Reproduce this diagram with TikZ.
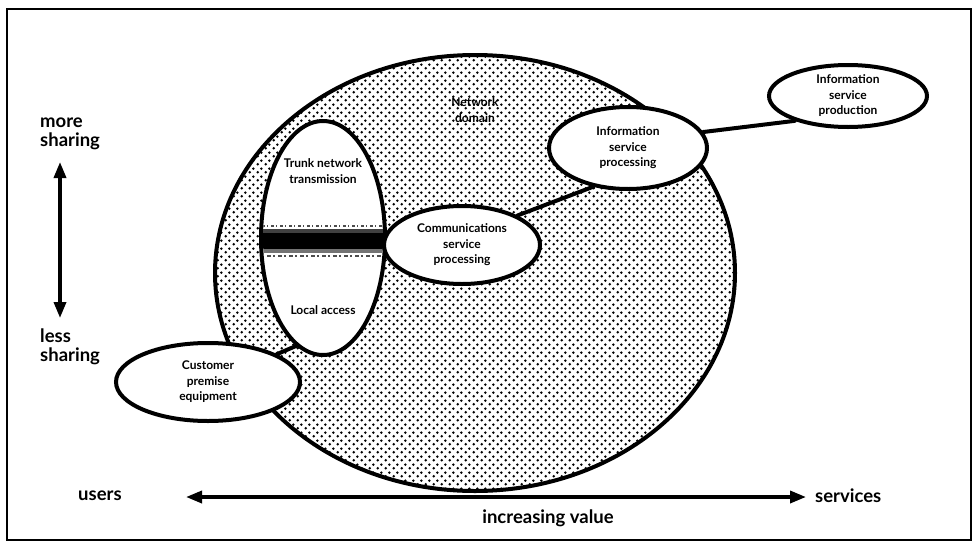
\documentclass[tikz,border=0pt]{standalone}
\usepackage{fontspec}
\setmainfont{Lato}
\usetikzlibrary{shapes.geometric,patterns,arrows.meta}

% staggered stipple used for the network domain
\pgfdeclarepatternformonly{stipple}{\pgfpointorigin}{\pgfpoint{8pt}{8pt}}{\pgfpoint{8pt}{8pt}}{%
  \pgfpathcircle{\pgfpoint{2pt}{2pt}}{1.55pt}%
  \pgfpathcircle{\pgfpoint{6pt}{6pt}}{1.55pt}%
  \pgfusepath{fill}}

\begin{document}
\begin{tikzpicture}[x=1pt,y=-1pt,
  outline/.style={line width=4pt,draw=black},
  bubble/.style={ellipse,outline,fill=white,inner sep=0pt,
    font=\bfseries\fontsize{12}{15.5}\selectfont,align=center},
  lbl/.style={font=\bfseries\fontsize{12}{16}\selectfont,align=center,inner sep=0pt},
  axislbl/.style={font=\bfseries\fontsize{18.5}{19}\selectfont,align=left,inner sep=0pt},
  link/.style={line width=4pt,line cap=round},
  axis/.style={line width=3.5pt,{Triangle[length=16pt,width=12pt]}-{Triangle[length=16pt,width=12pt]}}]

\useasboundingbox (0,0) rectangle (977,549);

% frame
\draw[line width=1.8pt] (7,9) rectangle (971,540);

% network domain
\node[ellipse,outline,pattern=stipple,minimum width=520pt,minimum height=436pt]
  (domain) at (475,273) {};
\node[lbl] (domainlbl) at (475,110) {Network\\domain};

% trunk network / local access
\node[ellipse,outline,fill=white,minimum width=124pt,minimum height=234pt]
  (inner) at (323,238) {};
\begin{scope}
  \clip (323,238) ellipse [x radius=60pt,y radius=115pt];
  \fill[black] (250,233) rectangle (400,249);
  \fill[black!75] (250,229) rectangle (400,233);
  \fill[black!55] (250,249) rectangle (400,253);
  \draw[black!70,line width=1.2pt,dash pattern=on 3pt off 2pt on 1pt off 3pt] (262,226) -- (390,226);
  \draw[black!70,line width=1.2pt,dash pattern=on 2pt off 3pt on 4pt off 2pt] (262,256) -- (390,256);
\end{scope}
\node[lbl] (trunklbl) at (323,171) {Trunk network\\transmission};
\node[lbl] (locallbl) at (323,310) {Local access};

% service bubbles
\node[bubble,minimum width=156pt,minimum height=78pt] (comm) at (462,245)
  {Communications\\service\\processing};
\node[bubble,minimum width=158pt,minimum height=82pt] (infoproc) at (628,148)
  {Information\\service\\processing};
\node[bubble,minimum width=158pt,minimum height=62pt] (infoprod) at (848,96)
  {Information\\service\\production};
\node[bubble,minimum width=184pt,minimum height=78pt] (cpe) at (208,382)
  {Customer\\premise\\equipment};

% links between the bubbles
\draw[link] (comm.28) -- (infoproc.228);
\draw[link] (infoproc.12) -- (infoprod.205);
\draw[link] (inner.256) -- (cpe.22);

% sharing axis
\node[axislbl,anchor=west] (more) at (40,134) {more\\sharing};
\node[axislbl,anchor=west] (less) at (40,347) {less\\sharing};
\coordinate (vtop) at (60,162);
\coordinate (vbot) at (60,318);
\draw[axis] (vtop) -- (vbot);

% value axis
\node[axislbl,anchor=west] (users) at (78,496) {users};
\node[axislbl,anchor=west] (services) at (815,496) {services};
\coordinate (hleft) at (186,497);
\coordinate (hright) at (806,497);
\draw[axis] (hleft) -- (hright);
\node[axislbl] (value) at (548,518) {increasing value};

\end{tikzpicture}
\end{document}
